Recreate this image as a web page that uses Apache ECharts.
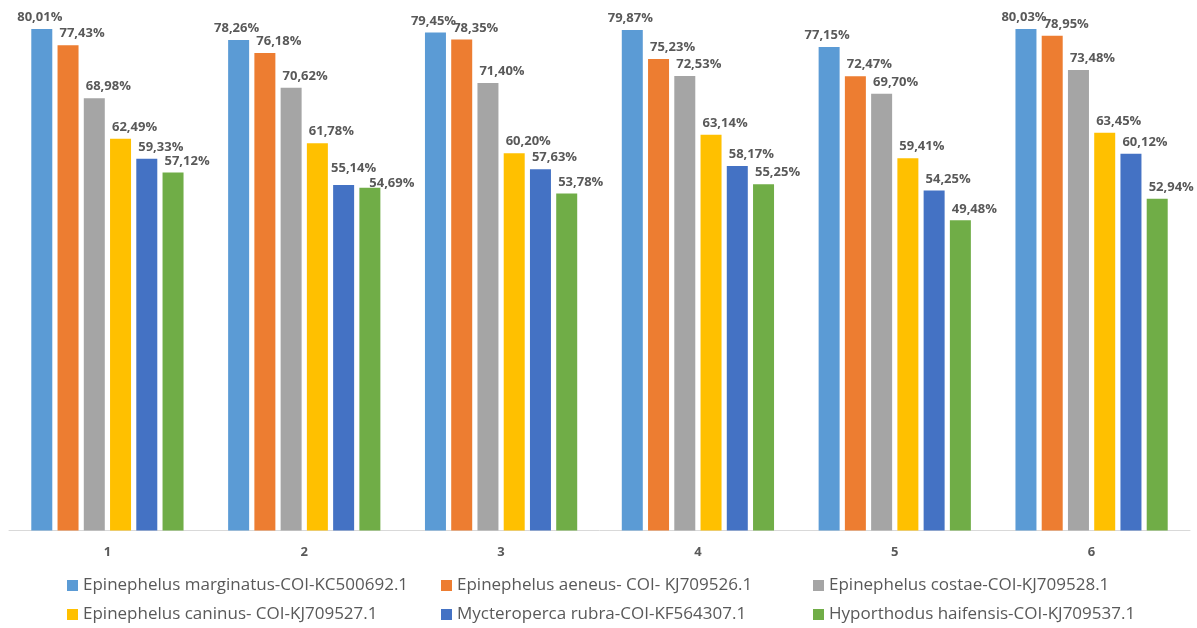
<!DOCTYPE html>
<html>
<head>
<meta charset="utf-8">
<script src="https://cdn.jsdelivr.net/npm/echarts@6/dist/echarts.min.js"></script>
<style>
  html, body { margin: 0; padding: 0; background: #fff; }
  #chart { width: 1197px; height: 628px; }
</style>
</head>
<body>
<div id="chart"></div>
<script>
// Groups along the x axis
const categories = ['1', '2', '3', '4', '5', '6'];

// Sequence names (one bar per group each)
const seriesNames = [
  'Epinephelus marginatus-COI-KC500692.1',
  'Epinephelus aeneus- COI- KJ709526.1',
  'Epinephelus costae-COI-KJ709528.1',
  'Epinephelus caninus- COI-KJ709527.1',
  'Mycteroperca rubra-COI-KF564307.1',
  'Hyporthodus haifensis-COI-KJ709537.1'
];

// Similarity percentages per sequence, one value per group
const marginatus = [80.01, 78.26, 79.45, 79.87, 77.15, 80.03];
const aeneus     = [77.43, 76.18, 78.35, 75.23, 72.47, 78.95];
const costae     = [68.98, 70.62, 71.40, 72.53, 69.70, 73.48];
const caninus    = [62.49, 61.78, 60.20, 63.14, 59.41, 63.45];
const rubra      = [59.33, 55.14, 57.63, 58.17, 54.25, 60.12];
const haifensis  = [57.12, 54.69, 53.78, 55.25, 49.48, 52.94];

const seriesValues = [marginatus, aeneus, costae, caninus, rubra, haifensis];
const colors = ['#5B9BD5', '#ED7D31', '#A5A5A5', '#FFC000', '#4472C4', '#70AD47'];

const fmt = v => v.toFixed(2).replace('.', ',') + '%';

// Default label shift per series, plus hand-placed labels where two would collide
const labelShift = [[-2, 0], [14, 0], [14, 0], [14, 0], [14, 0], [14, 0]];
const labelNudge = { '4-1': [10, -5], '5-1': [22, 7] };

const series = seriesNames.map((name, i) => ({
  name: name,
  type: 'bar',
  data: seriesValues[i].map((v, j) => {
    const nudge = labelNudge[i + '-' + j];
    return nudge ? { value: v, label: { offset: nudge } } : v;
  }),
  barWidth: 21,
  barGap: '25%',
  itemStyle: { color: colors[i] },
  label: {
    show: true,
    position: 'top',
    distance: 5,
    offset: labelShift[i],
    formatter: p => fmt(p.value),
    fontFamily: 'Open Sans',
    fontWeight: 'bold',
    fontSize: 13,
    color: '#595959'
  }
}));

// Legend laid out as three columns of two entries
const legendCols = [[0, 3], [1, 4], [2, 5]];
const legendLefts = [67, 441, 813];
const legends = legendCols.map((idx, c) => ({
  orient: 'vertical',
  left: legendLefts[c],
  top: 577,
  height: 50,
  padding: 0,
  itemWidth: 11,
  itemHeight: 11,
  itemGap: 12,
  icon: 'rect',
  selectedMode: false,
  data: idx.map(k => seriesNames[k]),
  textStyle: {
    fontFamily: 'Open Sans',
    fontSize: 17,
    lineHeight: 17,
    color: '#595959'
  }
}));

const chart = echarts.init(document.getElementById('chart'), null, { renderer: 'canvas' });
chart.setOption({
  animation: false,
  backgroundColor: '#ffffff',
  textStyle: { fontFamily: 'Open Sans' },
  legend: legends,
  grid: { left: 9, right: 7, top: 4, bottom: 97.5, containLabel: false },
  xAxis: {
    type: 'category',
    data: categories,
    axisLine: { lineStyle: { color: '#D9D9D9', width: 1 } },
    axisTick: { show: false },
    axisLabel: {
      margin: 15,
      fontFamily: 'Open Sans',
      fontWeight: 'bold',
      fontSize: 13,
      color: '#595959'
    }
  },
  yAxis: {
    type: 'value',
    min: 0,
    max: 84,
    show: false,
    splitLine: { show: false }
  },
  series: series
});
</script>
</body>
</html>
